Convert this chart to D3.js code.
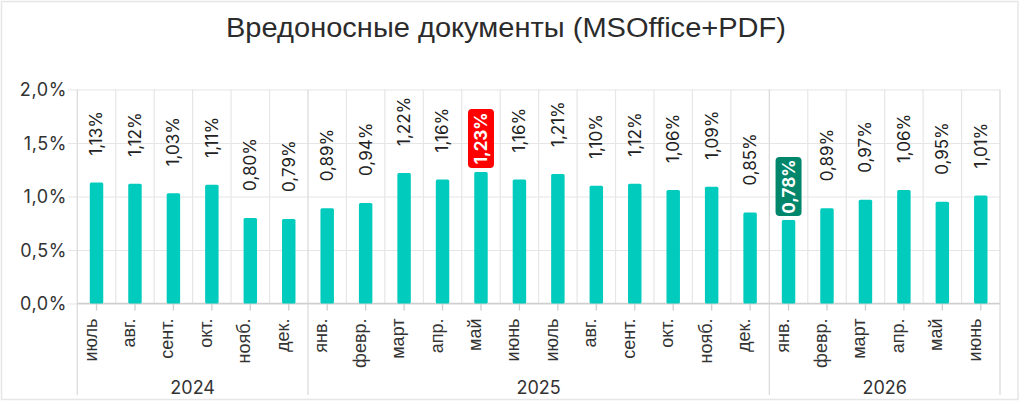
<!DOCTYPE html>
<html><head><meta charset="utf-8">
<script src="https://cdn.jsdelivr.net/npm/d3@7"></script>
<style>
html,body{margin:0;padding:0;background:#fff;}
svg{display:block;}
</style></head>
<body>
<svg id="chart" width="1024" height="404"></svg>
<script>
const title = "Вредоносные документы (MSOffice+PDF)";
const months = ["июль","авг.","сент.","окт.","нояб.","дек.",
  "янв.","февр.","март","апр.","май","июнь","июль","авг.","сент.","окт.","нояб.","дек.",
  "янв.","февр.","март","апр.","май","июнь"];
const years = ["2024","2025","2026"];
const yearOf = [0,0,0,0,0,0, 1,1,1,1,1,1,1,1,1,1,1,1, 2,2,2,2,2,2];
const values = [1.13,1.12,1.03,1.11,0.80,0.79,
  0.89,0.94,1.22,1.16,1.23,1.16,1.21,1.10,1.12,1.06,1.09,0.85,
  0.78,0.89,0.97,1.06,0.95,1.01];
const yTicks = [0,0.5,1.0,1.5,2.0];

const svg = d3.select("#chart");
const L = 77.3, R = 1000, T = 89.5, B = 303.5;
const idx = values.map((d,i)=>i);
const x = d3.scaleBand().domain(idx).range([L,R]).paddingInner(0.65).paddingOuter(0.325);
const xs = d3.scaleBand().domain(idx).range([L,R]).padding(0);
const y = d3.scaleLinear().domain([0,2]).range([B,T]);
const fmt = v => d3.format(".2f")(v).replace(".",",") + "%";
const fmtT = v => d3.format(".1f")(v).replace(".",",") + "%";

// frame
svg.append("rect").attr("x",1.5).attr("y",1.5).attr("width",1016.5).attr("height",398)
  .attr("fill","none").attr("stroke","#e6e6e6").attr("stroke-width",1.5);

// title
svg.append("text").attr("x",226).attr("y",37).attr("text-anchor","start")
  .attr("font-family","'Liberation Sans', Arial, sans-serif").attr("font-size",27)
  .attr("fill","#2b2b2b").attr("textLength",560).attr("lengthAdjust","spacingAndGlyphs")
  .text(title);

// horizontal gridlines + y ticks
const yAxis = d3.axisLeft(y).tickValues(yTicks).tickFormat(fmtT).tickSize(R-68).tickPadding(2);
const ga = svg.append("g").attr("transform",`translate(${R},0)`).call(yAxis);
ga.select(".domain").remove();
ga.selectAll(".tick line").attr("stroke","#e6e6e6").attr("stroke-width",1.2);
ga.selectAll(".tick text").attr("font-family","Inter, 'Noto Sans', sans-serif")
  .attr("font-size",18).attr("fill","#333").attr("letter-spacing",0.6)
  .attr("x",-(R-67)).attr("dy","0.35em");

// vertical gridlines between bars
const inner = idx.slice(1).filter(i => yearOf[i] === yearOf[i-1]);
svg.append("g").selectAll("line").data(inner).join("line")
  .attr("x1",d=>xs(d)).attr("x2",d=>xs(d)).attr("y1",T).attr("y2",B)
  .attr("stroke","#e6e6e6").attr("stroke-width",1.2);
// year boundaries
const bounds = [0].concat(idx.slice(1).filter(i => yearOf[i] !== yearOf[i-1]));
svg.append("g").selectAll("line").data(bounds).join("line")
  .attr("x1",d=>xs(d)).attr("x2",d=>xs(d)).attr("y1",T).attr("y2",395)
  .attr("stroke","#dcdcdc").attr("stroke-width",1.3);
svg.append("line").attr("x1",R).attr("x2",R).attr("y1",T).attr("y2",395)
  .attr("stroke","#dcdcdc").attr("stroke-width",1.3);

// x axis
const xAxis = d3.axisBottom(x).tickSize(7).tickFormat(i=>months[i]).tickSizeOuter(0);
const gx = svg.append("g").attr("transform",`translate(0,${B})`).call(xAxis);
gx.select(".domain").attr("stroke","#cfcfcf").attr("stroke-width",1.3)
  .attr("d",`M${L},0H${R}`);
gx.selectAll(".tick line").attr("stroke","#cfcfcf").attr("stroke-width",1.3);
gx.selectAll(".tick text").attr("font-family","'Liberation Sans', Arial, sans-serif")
  .attr("font-size",18).attr("fill","#333").attr("text-anchor","end")
  .attr("transform","rotate(-90)").attr("x",-15).attr("y",0).attr("dy","0");

// year labels
svg.append("g").selectAll("text").data(years).join("text")
  .attr("x",(d,k)=>{const ii=idx.filter(i=>yearOf[i]===k);return (xs(ii[0])+xs(ii[ii.length-1])+xs.bandwidth())/2;})
  .attr("y",394).attr("text-anchor","middle")
  .attr("font-family","Inter, 'Noto Sans', sans-serif").attr("font-size",18)
  .attr("fill","#333").text(d=>d);

// bars
svg.append("g").selectAll("rect").data(values).join("rect")
  .attr("x",(d,i)=>x(i)).attr("width",x.bandwidth())
  .attr("y",d=>y(d)).attr("height",d=>B-y(d)).attr("rx",1.5)
  .attr("fill","#00cbbd");

// value labels
const maxI = values.indexOf(d3.max(values));
const minI = values.indexOf(d3.min(values));
const cx = i => x(i) + x.bandwidth()/2;
const normal = idx.filter(i => i!==maxI && i!==minI);
svg.append("g").selectAll("text").data(normal).join("text")
  .attr("transform",i=>`translate(${cx(i)},${y(values[i])-27}) rotate(-90)`)
  .attr("dy","0.35em").attr("text-anchor","start")
  .attr("font-family","Inter, 'Noto Sans', sans-serif").attr("font-size",17)
  .attr("fill","#222").text(i=>fmt(values[i]));

const hl = [{i:maxI,c:"#ff0000"},{i:minI,c:"#00866b"}];
const bw = 26, bh = 59;
const hg = svg.append("g").selectAll("g").data(hl).join("g")
  .attr("transform",d=>`translate(${cx(d.i)},${y(values[d.i])-4-bh/2})`);
hg.append("rect").attr("x",-bw/2).attr("y",-bh/2).attr("width",bw).attr("height",bh)
  .attr("rx",4).attr("fill",d=>d.c);
hg.append("text").attr("transform","rotate(-90)").attr("text-anchor","middle").attr("dy","0.36em")
  .attr("font-family","Inter, 'Noto Sans', sans-serif").attr("font-size",17).attr("font-weight","bold")
  .attr("fill","#fff").text(d=>fmt(values[d.i]));
</script>
</body></html>
